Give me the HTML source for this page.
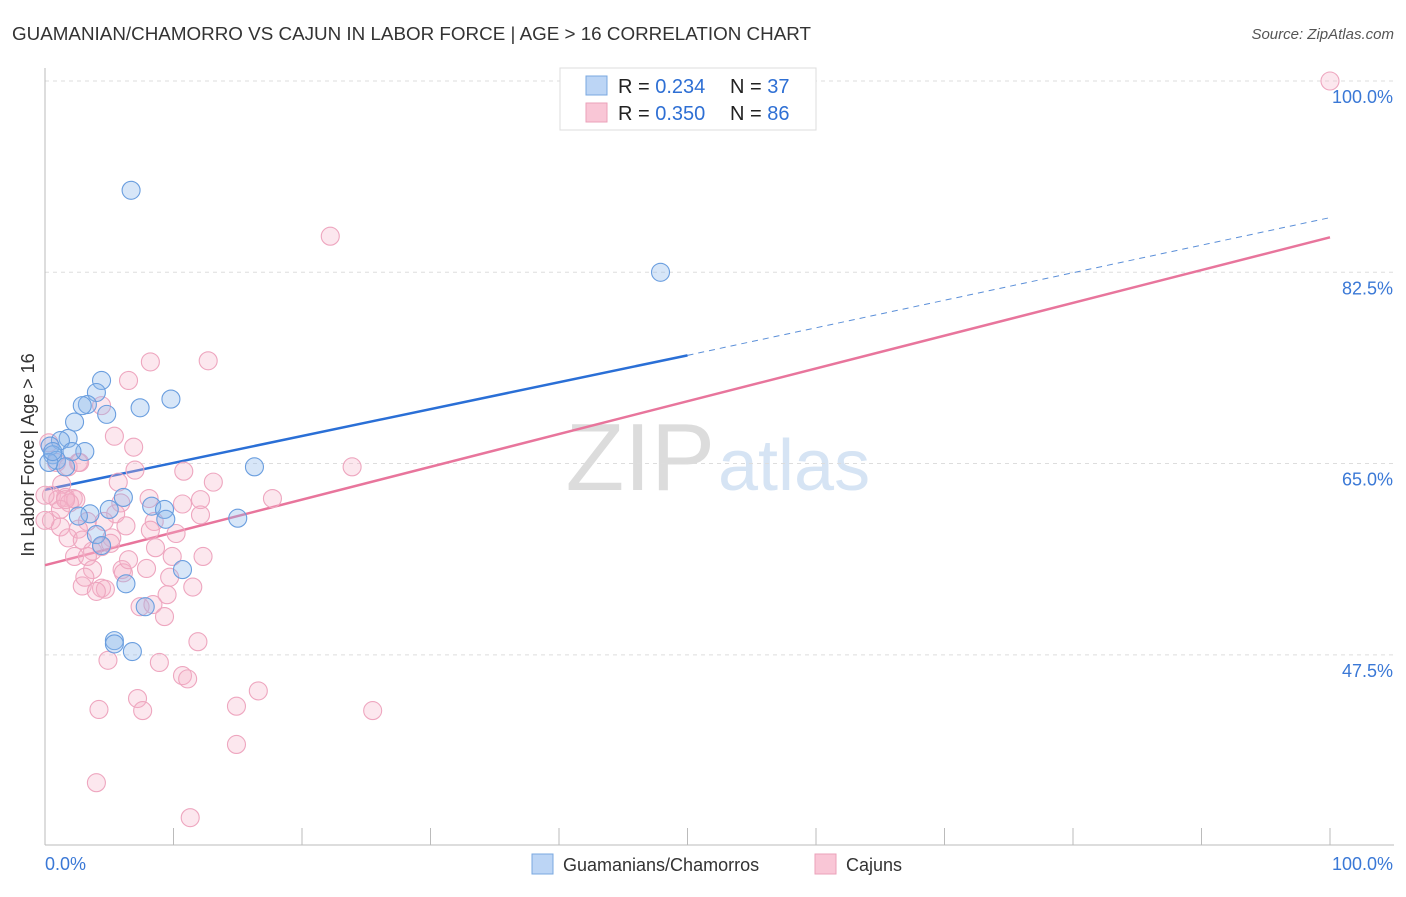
<!DOCTYPE html>
<html><head><meta charset="utf-8"><style>
body{margin:0;background:#fff;font-family:"Liberation Sans",sans-serif;}
svg text{font-family:"Liberation Sans",sans-serif;}
</style></head><body>
<svg id="chart" width="1406" height="892">
<text x="12" y="40" font-size="18" fill="#333" textLength="799" lengthAdjust="spacingAndGlyphs">GUAMANIAN/CHAMORRO VS CAJUN IN LABOR FORCE | AGE &gt; 16 CORRELATION CHART</text>
<text x="1394" y="39" font-size="15" fill="#555" font-style="italic" text-anchor="end">Source: ZipAtlas.com</text>
<text transform="translate(34,455) rotate(-90)" font-size="18" fill="#333" text-anchor="middle">In Labor Force | Age &gt; 16</text>
<text x="715" y="490" font-size="96" fill="#dcdcdc" text-anchor="end" font-family="Liberation Serif">ZIP</text>
<text x="718" y="490" font-size="72" fill="#d6e4f4">atlas</text>
<g id="grid"></g><g id="axes"></g><g id="lines"></g><g id="pts"></g>
<g>
<rect x="560" y="68" width="256" height="62" fill="#fff" stroke="#ddd"/>
<rect x="586" y="76" width="21" height="19" fill="#bcd5f5" stroke="#7aa8e0"/>
<rect x="586" y="103" width="21" height="19" fill="#f9c6d6" stroke="#eba1ba"/>
<text x="618" y="93" font-size="20" fill="#222">R = <tspan fill="#2e6fd4">0.234</tspan></text>
<text x="730" y="93" font-size="20" fill="#222">N = <tspan fill="#2e6fd4">37</tspan></text>
<text x="618" y="120" font-size="20" fill="#222">R = <tspan fill="#2e6fd4">0.350</tspan></text>
<text x="730" y="120" font-size="20" fill="#222">N = <tspan fill="#2e6fd4">86</tspan></text>
</g>
<g>
<rect x="532" y="854" width="21" height="20" fill="#bcd5f5" stroke="#7aa8e0"/>
<text x="563" y="871" font-size="18" fill="#333">Guamanians/Chamorros</text>
<rect x="815" y="854" width="21" height="20" fill="#f9c6d6" stroke="#eba1ba"/>
<text x="846" y="871" font-size="18" fill="#333">Cajuns</text>
</g>
</svg>
<script>
const blueX=[6.7,47.9,4.4,4.0,3.3,2.9,4.8,7.4,9.8,2.3,1.8,1.2,3.1,2.1,0.4,0.6,0.9,1.6,16.3,0.3,6.1,5.0,8.3,9.3,3.5,2.6,9.4,15.0,4.0,4.4,10.7,6.3,7.8,5.4,5.4,6.8,0.6];
const blueY=[90.0,82.5,72.6,71.5,70.4,70.3,69.5,70.1,70.9,68.8,67.3,67.1,66.1,66.1,66.6,65.8,65.3,64.7,64.7,65.1,61.9,60.8,61.1,60.8,60.4,60.2,59.9,60.0,58.5,57.5,55.3,54.0,51.9,48.8,48.5,47.8,66.1];
const pinkX=[100,22.2,8.2,12.7,6.5,4.4,5.4,6.9,0.3,2.6,10.8,23.9,13.1,5.7,1.3,0.5,1.6,2.2,1.0,2.4,8.1,10.7,17.7,5.9,5.5,12.1,8.5,1.9,3.3,4.6,6.3,0.5,1.2,2.6,8.2,10.2,1.8,2.9,5.2,4.4,8.6,3.7,2.3,3.3,9.9,12.3,7.9,3.7,6.0,6.1,9.7,2.9,4.4,11.5,4.7,9.5,7.4,8.4,9.3,11.9,4.9,8.9,7.2,10.7,11.1,16.6,4.2,7.6,14.9,25.5,14.9,4.0,11.3,4.0,5.1,0.9,1.8,2.7,1.2,0,0,12.1,6.5,3.1,1.6,7.0];
const pinkY=[100,85.8,74.3,74.4,72.6,70.3,67.5,66.5,66.9,65.1,64.3,64.7,63.3,63.3,63.1,62.1,61.9,61.8,61.7,61.7,61.8,61.3,61.8,61.4,60.4,60.3,59.7,61.4,59.7,59.7,59.3,59.8,59.2,59.0,58.9,58.6,58.2,58.0,58.2,57.4,57.3,57.0,56.5,56.5,56.5,56.5,55.4,55.3,55.3,55.0,54.6,53.8,53.6,53.7,53.5,53.0,51.9,52.1,51.0,48.7,47.0,46.8,43.5,45.6,45.3,44.2,42.5,42.4,42.8,42.4,39.3,35.8,32.6,53.3,57.7,65.1,64.7,65.1,60.8,62.1,59.8,61.7,56.2,54.6,61.7,64.4];
const yTicks=[100,82.5,65,47.5];
const yTickLabels=["100.0%","82.5%","65.0%","47.5%"];
const blueLine=[62.6,74.9,87.5];
const pinkLine=[55.7,85.7];
const NS="http://www.w3.org/2000/svg";
const sx=v=>45+v*12.85, sy=v=>81+(100-v)*10.93;
function mk(tag,attrs,parent){const e=document.createElementNS(NS,tag);for(const k in attrs)e.setAttribute(k,attrs[k]);document.getElementById(parent).appendChild(e);return e;}
yTicks.forEach((t,i)=>{
 const g=mk('line',{x1:45,x2:1394,y1:sy(t),y2:sy(t),stroke:'#ddd','stroke-dasharray':'4,4'},'grid');
 
 
 const l=mk('text',{x:1393,y:sy(t)+22,'font-size':18,fill:'#3a78d6','text-anchor':'end'},'axes');
 l.textContent=yTickLabels[i];
 
 
});
const ax=mk('line',{x1:45,x2:1394,y1:845,y2:845,stroke:'#bbb'},'axes');


const ay=mk('line',{x1:45,x2:45,y1:68,y2:845,stroke:'#bbb'},'axes');


for(let i=1;i<=10;i++){const t=mk('line',{x1:sx(i*10),x2:sx(i*10),y1:828,y2:845,stroke:'#bbb'},'axes');
 
 }
[["0.0%",45,'start'],["100.0%",1393,'end']].forEach(d=>{const t=mk('text',{x:d[1],y:870,'font-size':18,fill:'#3a78d6','text-anchor':d[2]},'axes');t.textContent=d[0];
 
 });
const b1=mk('line',{x1:sx(0),y1:sy(blueLine[0]),x2:sx(50),y2:sy(blueLine[1]),stroke:'#2a6fd6','stroke-width':2.5},'lines');


const b2=mk('line',{x1:sx(50),y1:sy(blueLine[1]),x2:sx(100),y2:sy(blueLine[2]),stroke:'#5b8fd8','stroke-width':1,'stroke-dasharray':'6,5'},'lines');


const p1=mk('line',{x1:sx(0),y1:sy(pinkLine[0]),x2:sx(100),y2:sy(pinkLine[1]),stroke:'#e8759c','stroke-width':2.5},'lines');


pinkX.forEach((x,i)=>{const c=mk('circle',{cx:sx(x),cy:sy(pinkY[i]),r:9,fill:'rgba(246,180,202,0.32)',stroke:'#eea6bf','stroke-width':1.1},'pts');
 
 });
blueX.forEach((x,i)=>{const c=mk('circle',{cx:sx(x),cy:sy(blueY[i]),r:9,fill:'rgba(140,182,236,0.35)',stroke:'#6a9edf','stroke-width':1.1},'pts');
 
 });
</script>
</body></html>
